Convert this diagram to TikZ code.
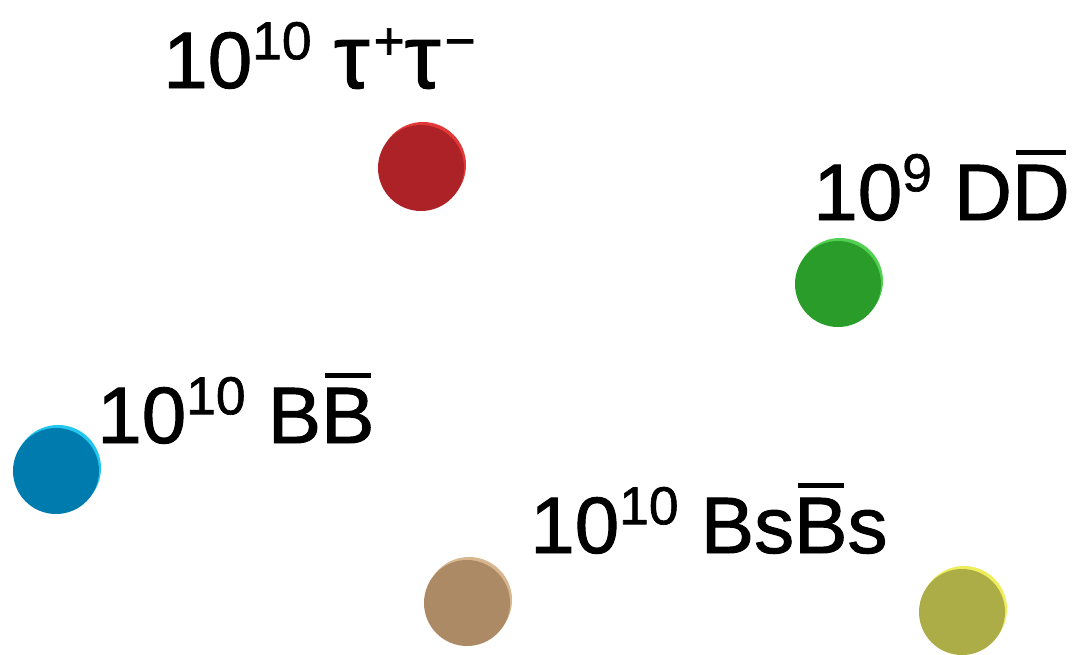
\documentclass[tikz,border=0pt]{standalone}
\usepackage{fontspec}
\setmainfont{Liberation Sans}[FakeBold=1.2,UprightFeatures={FakeBold=1.2}]

\definecolor{tauRed}{HTML}{AC2226}
\definecolor{tauRedHi}{HTML}{E23838}
\definecolor{charmGreen}{HTML}{2A9C2A}
\definecolor{charmGreenHi}{HTML}{52D052}
\definecolor{beautyBlue}{HTML}{007BAD}
\definecolor{beautyBlueHi}{HTML}{22C6EE}
\definecolor{strangeTan}{HTML}{AD8A66}
\definecolor{strangeTanHi}{HTML}{D8B690}
\definecolor{oliveBall}{HTML}{ADAD47}
\definecolor{oliveBallHi}{HTML}{EEEE5C}

% raised small exponent and a bar over one letter
\newcommand\pow[1]{\raisebox{0.36em}{\fontsize{40}{44}\selectfont #1}}
\newcommand\barred[1]{\setbox0=\hbox{#1}\rlap{\hspace{0.05em}\raisebox{\dimexpr\ht0+0.12em\relax}{\rule{\dimexpr\wd0-0.1em\relax}{0.07em}}}\box0}
\newcommand\bigtau{{\fontsize{68}{70}\selectfont τ}\hspace{0.05em}}

\begin{document}
\begin{tikzpicture}[x=0.75pt,y=-0.75pt,
  ball/.style={circle, inner sep=0pt, minimum size=64.5pt, fill=#1},
  yieldtext/.style={anchor=base west, inner sep=0pt, font=\fontsize{60}{66}\selectfont}]
  \useasboundingbox[fill=white] (0,0) rectangle (1077,654);

  \foreach \name/\x/\y/\col/\hi in {
    tau/421/168/tauRed/tauRedHi,
    charm/838/284/charmGreen/charmGreenHi,
    beauty/56/471/beautyBlue/beautyBlueHi,
    strange/467/603/strangeTan/strangeTanHi,
    olive/962/612/oliveBall/oliveBallHi%
  }{
    \fill[\hi] (\x+2,\y-3) circle (32.25pt);
    \node[ball=\col] (\name) at (\x,\y) {};
  }

  \node[yieldtext] (tauText) at (163,88) {10\pow{10} \bigtau\pow{+}\bigtau\pow{−}};
  \node[yieldtext] (charmText) at (813,220) {10\pow{9} D\barred{D}};
  \node[yieldtext] (beautyText) at (97,443) {10\pow{10} B\barred{B}};
  \node[yieldtext] (strangeText) at (530,553) {10\pow{10} Bs\barred{B}s};
\end{tikzpicture}
\end{document}
